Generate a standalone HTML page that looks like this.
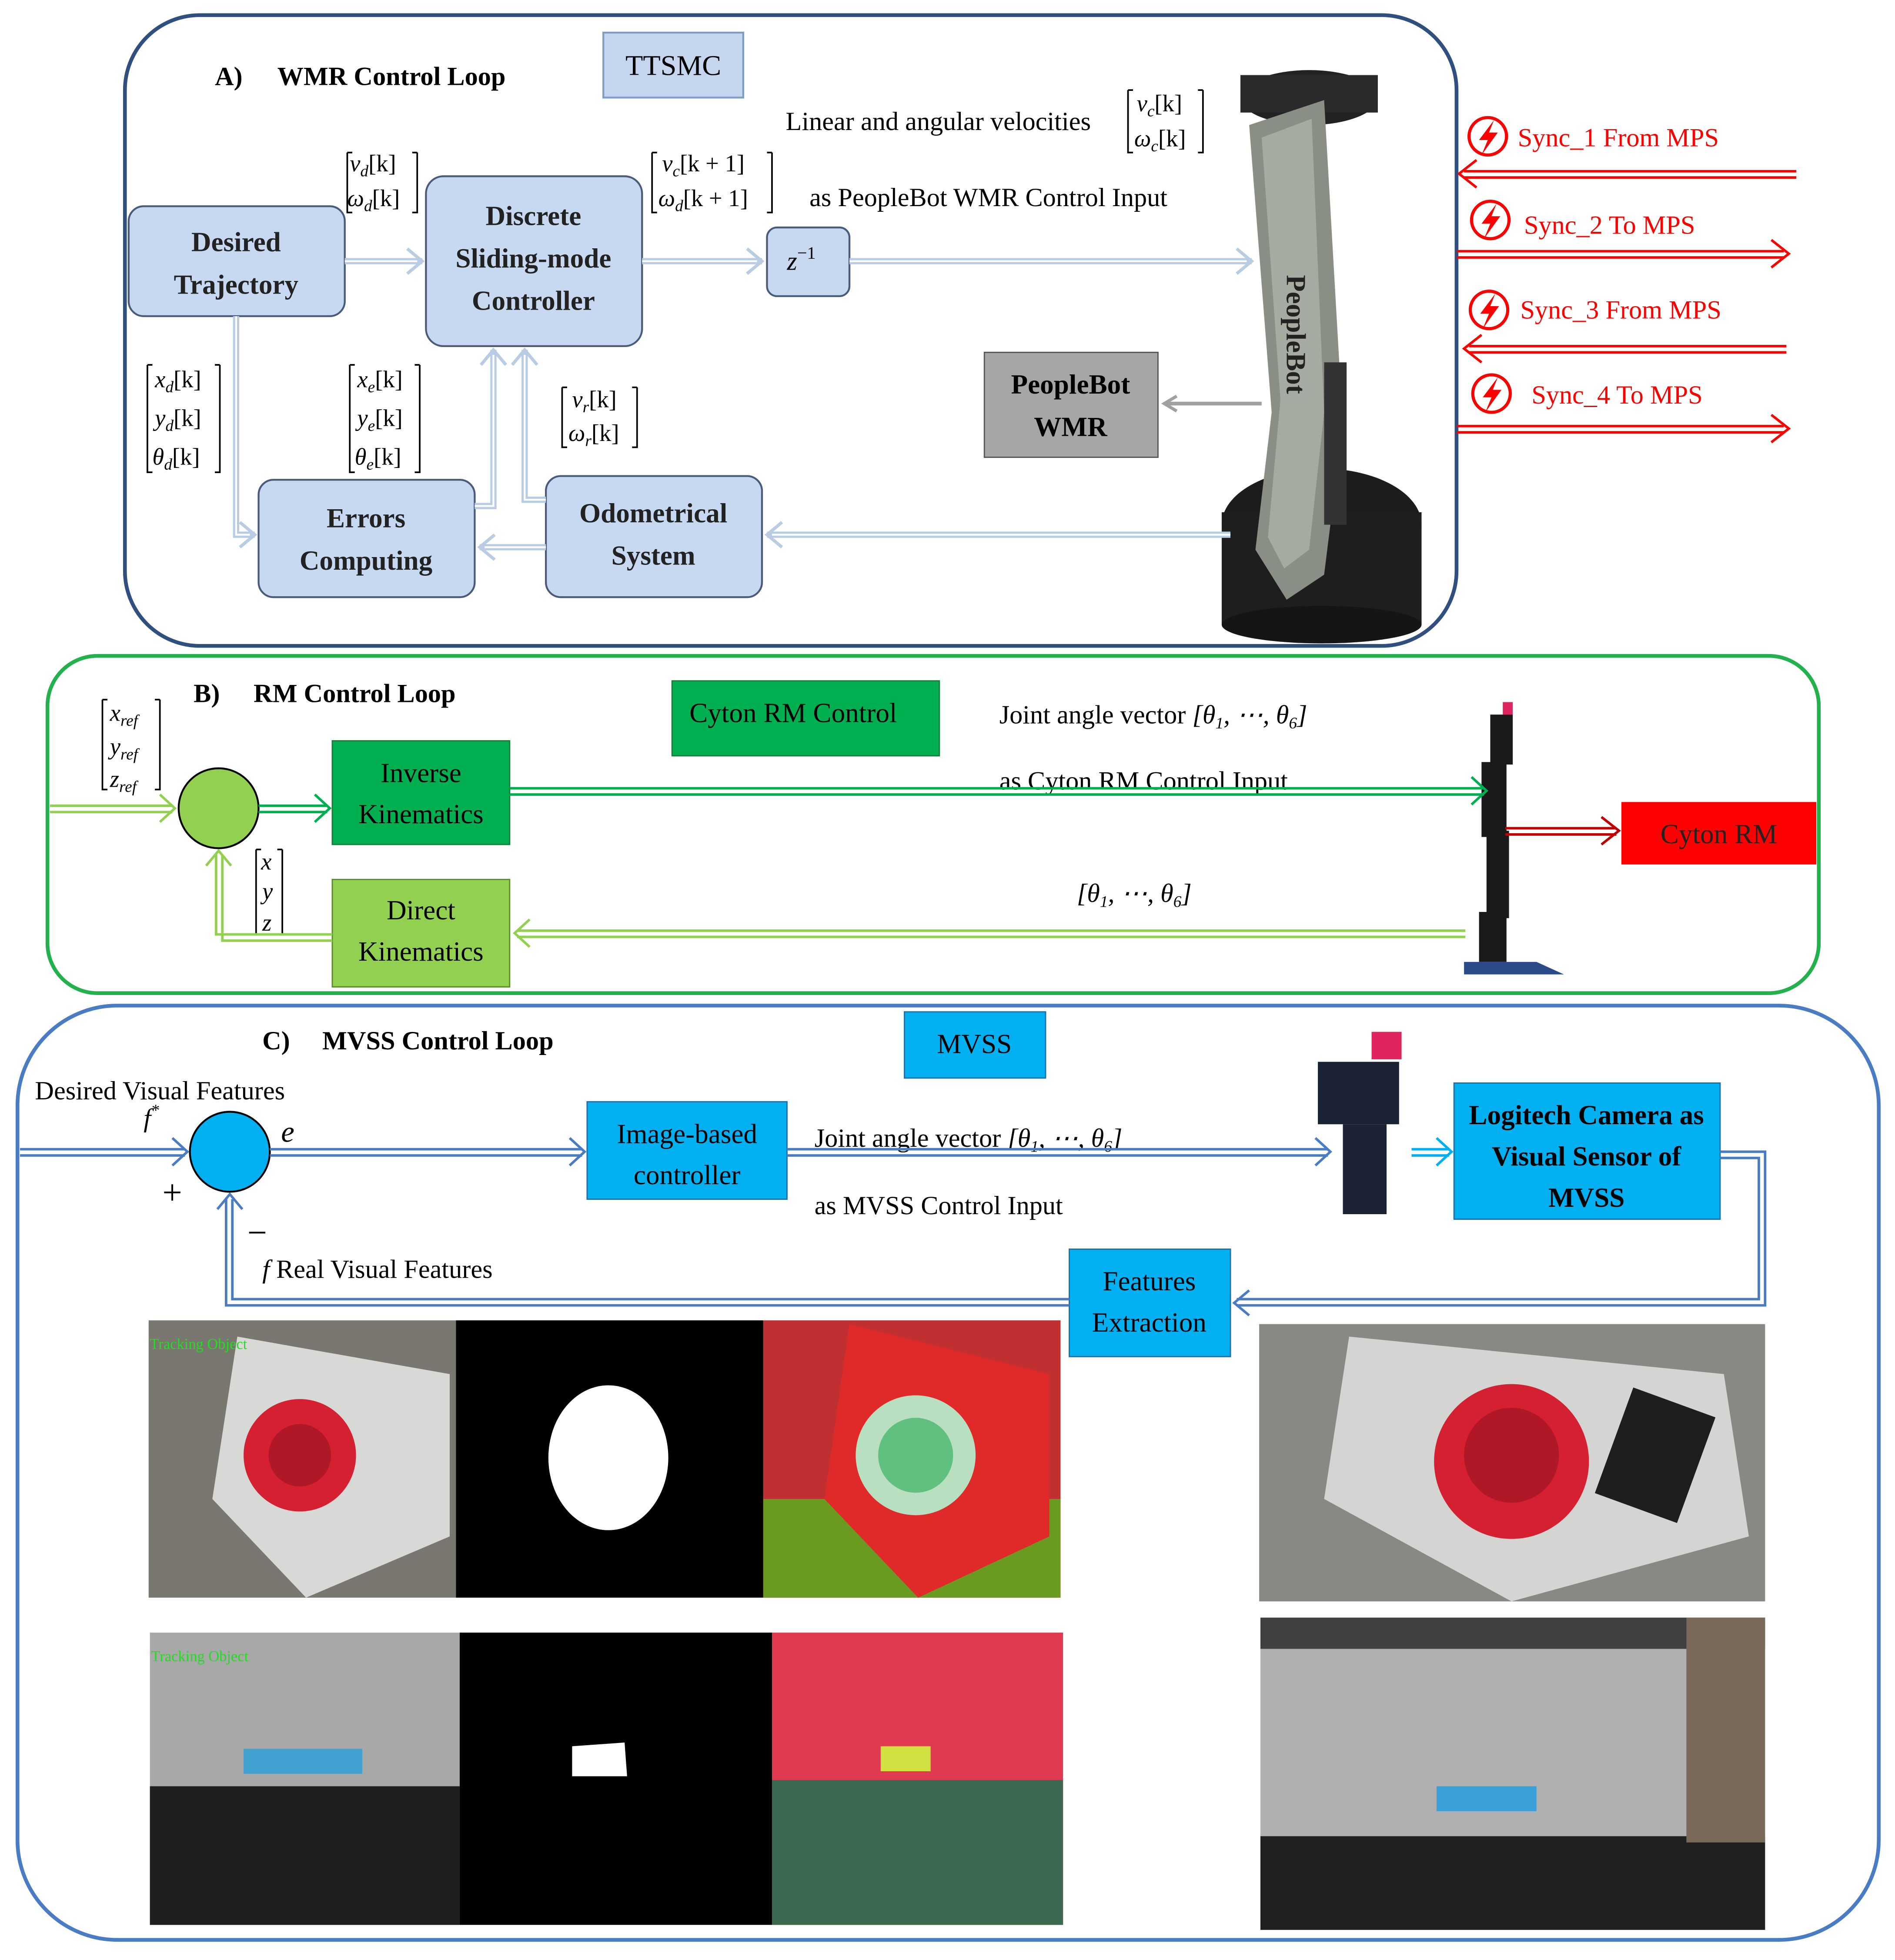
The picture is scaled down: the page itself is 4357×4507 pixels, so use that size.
<!DOCTYPE html>
<html><head><meta charset="utf-8"><style>
html,body{margin:0;padding:0;background:#fff}
svg{display:block}
text{font-family:"Liberation Serif",serif}
</style></head><body>
<svg width="4357" height="4507" viewBox="0 0 1517 1569" xmlns="http://www.w3.org/2000/svg">
<defs>
<marker id="ab" markerWidth="12" markerHeight="12" refX="10" refY="6" orient="auto" markerUnits="userSpaceOnUse"><path d="M1,1 L10,6 L1,11" fill="none" stroke="#b8cce4" stroke-width="2.5"/></marker>
<marker id="ag" markerWidth="14" markerHeight="14" refX="11" refY="7" orient="auto" markerUnits="userSpaceOnUse"><path d="M1,1 L11,7 L1,13" fill="none" stroke="#a0a0a0" stroke-width="2.5"/></marker>
<marker id="ar" markerWidth="16" markerHeight="14" refX="14" refY="7" orient="auto" markerUnits="userSpaceOnUse"><path d="M1,1 L14,7 L1,13" fill="none" stroke="#ff0000" stroke-width="2.5"/></marker>
<marker id="adr" markerWidth="16" markerHeight="14" refX="14" refY="7" orient="auto" markerUnits="userSpaceOnUse"><path d="M1,1 L14,7 L1,13" fill="none" stroke="#c00000" stroke-width="2.5"/></marker>
<marker id="agd" markerWidth="16" markerHeight="14" refX="14" refY="7" orient="auto" markerUnits="userSpaceOnUse"><path d="M1,1 L14,7 L1,13" fill="none" stroke="#00b050" stroke-width="2.5"/></marker>
<marker id="agl" markerWidth="16" markerHeight="14" refX="14" refY="7" orient="auto" markerUnits="userSpaceOnUse"><path d="M1,1 L14,7 L1,13" fill="none" stroke="#92d050" stroke-width="2.5"/></marker>
<marker id="abl" markerWidth="16" markerHeight="14" refX="14" refY="7" orient="auto" markerUnits="userSpaceOnUse"><path d="M1,1 L14,7 L1,13" fill="none" stroke="#4a7cc4" stroke-width="2.5"/></marker>
<marker id="acy" markerWidth="16" markerHeight="14" refX="14" refY="7" orient="auto" markerUnits="userSpaceOnUse"><path d="M1,1 L14,7 L1,13" fill="none" stroke="#00b0f0" stroke-width="2.5"/></marker>
</defs>
<rect width="1517" height="1569" fill="#fff"/>

<!-- PANEL A -->
<rect x="100" y="12" width="1066" height="505" rx="60" fill="none" stroke="#2f4f7f" stroke-width="3"/>
<text x="172" y="68" font-size="21" font-weight="bold">A)</text>
<text x="222" y="68" font-size="21" font-weight="bold">WMR Control Loop</text>
<rect x="483" y="26" width="112" height="52" fill="#c5d5ee" stroke="#7f9cc8" stroke-width="1.5"/>
<text x="539" y="60" font-size="23" text-anchor="middle">TTSMC</text>

<g fill="#c7d9f1" stroke="#4a5a7a" stroke-width="1.5">
<rect x="103" y="165" width="173" height="88" rx="12"/>
<rect x="341" y="141" width="173" height="136" rx="14"/>
<rect x="614" y="182" width="66" height="55" rx="8"/>
<rect x="207" y="384" width="173" height="94" rx="12"/>
<rect x="437" y="381" width="173" height="97" rx="12"/>
</g>
<g font-size="22" text-anchor="middle" font-weight="bold" fill="#222">
<text x="189" y="201">Desired</text><text x="189" y="235">Trajectory</text>
<text x="427" y="180">Discrete</text><text x="427" y="214">Sliding-mode</text><text x="427" y="248">Controller</text>
<text x="293" y="422">Errors</text><text x="293" y="456">Computing</text>
<text x="523" y="418">Odometrical</text><text x="523" y="452">System</text>
</g>
<text x="630" y="216" font-size="21" font-style="italic">z<tspan font-size="14" dy="-9" font-style="normal">−1</tspan></text>
<rect x="788" y="282" width="139" height="84" fill="#a6a6a6" stroke="#555" stroke-width="1"/>
<text x="857" y="315" font-size="22" text-anchor="middle" font-weight="bold">PeopleBot</text>
<text x="857" y="349" font-size="22" text-anchor="middle" font-weight="bold">WMR</text>

<!-- robot -->
<g>
<ellipse cx="1048" cy="78" rx="55" ry="22" fill="#222"/>
<rect x="993" y="60" width="110" height="30" fill="#2a2a2a"/>
<ellipse cx="1058" cy="420" rx="80" ry="45" fill="#1c1c1c"/>
<rect x="978" y="410" width="160" height="90" fill="#1e1e1e"/>
<ellipse cx="1058" cy="500" rx="80" ry="15" fill="#151515"/>
<path d="M1000,100 L1060,80 L1075,340 L1060,460 L1030,480 L1005,440 L1018,330 Z" fill="#8a8f86"/>
<path d="M1010,110 L1050,95 L1060,330 L1048,440 L1028,455 L1015,430 L1025,320 Z" fill="#a6aba2"/>
<rect x="1060" y="290" width="18" height="130" fill="#333"/>
<text x="1030" y="220" font-size="22" font-weight="bold" fill="#222" transform="rotate(90 1030 220)">PeopleBot</text>
</g>

<!-- A arrows -->
<g fill="none" stroke="#b8cce4" stroke-width="5">
<path d="M276,209 L338,209"/><path d="M514,209 L610,209"/><path d="M680,209 L1002,209"/>
<path d="M985,428 L614,428"/><path d="M437,438 L384,438"/>
<path d="M189,253 L189,428 L204,428"/>
<path d="M380,405 L395,405 L395,280"/><path d="M437,400 L420,400 L420,280"/>
</g>
<g fill="none" stroke="#fff" stroke-width="1.5">
<path d="M276,209 L334,209"/><path d="M514,209 L606,209"/><path d="M680,209 L998,209"/>
<path d="M985,428 L618,428"/><path d="M437,438 L388,438"/>
<path d="M189,253 L189,428 L200,428"/>
<path d="M380,405 L395,405 L395,284"/><path d="M437,400 L420,400 L420,284"/>
</g>
<g fill="none" stroke="#b8cce4" stroke-width="2.5">
<path d="M326,199 L338,209 L326,219"/><path d="M598,199 L610,209 L598,219"/><path d="M990,199 L1002,209 L990,219"/>
<path d="M626,418 L614,428 L626,438"/><path d="M396,428 L384,438 L396,448"/>
<path d="M192,418 L204,428 L192,438"/>
<path d="M385,292 L395,280 L405,292"/><path d="M410,292 L420,280 L430,292"/>
</g>
<path d="M1010,323 L932,323" stroke="#a0a0a0" stroke-width="3" marker-end="url(#ag)"/>

<!-- A math labels -->
<g font-size="19" font-style="italic">
<text x="280" y="137">v<tspan font-size="13" dy="4">d</tspan><tspan dy="-4" font-style="normal">[k]</tspan></text>
<text x="278" y="165">ω<tspan font-size="13" dy="4">d</tspan><tspan dy="-4" font-style="normal">[k]</tspan></text>
<text x="530" y="137">v<tspan font-size="13" dy="4">c</tspan><tspan dy="-4" font-style="normal">[k + 1]</tspan></text>
<text x="527" y="165">ω<tspan font-size="13" dy="4">d</tspan><tspan dy="-4" font-style="normal">[k + 1]</tspan></text>
<text x="910" y="89">v<tspan font-size="13" dy="4">c</tspan><tspan dy="-4" font-style="normal">[k]</tspan></text>
<text x="908" y="117">ω<tspan font-size="13" dy="4">c</tspan><tspan dy="-4" font-style="normal">[k]</tspan></text>
<text x="124" y="310">x<tspan font-size="13" dy="4">d</tspan><tspan dy="-4" font-style="normal">[k]</tspan></text>
<text x="124" y="341">y<tspan font-size="13" dy="4">d</tspan><tspan dy="-4" font-style="normal">[k]</tspan></text>
<text x="122" y="372">θ<tspan font-size="13" dy="4">d</tspan><tspan dy="-4" font-style="normal">[k]</tspan></text>
<text x="286" y="310">x<tspan font-size="13" dy="4">e</tspan><tspan dy="-4" font-style="normal">[k]</tspan></text>
<text x="286" y="341">y<tspan font-size="13" dy="4">e</tspan><tspan dy="-4" font-style="normal">[k]</tspan></text>
<text x="284" y="372">θ<tspan font-size="13" dy="4">e</tspan><tspan dy="-4" font-style="normal">[k]</tspan></text>
<text x="458" y="326">v<tspan font-size="13" dy="4">r</tspan><tspan dy="-4" font-style="normal">[k]</tspan></text>
<text x="455" y="353">ω<tspan font-size="13" dy="4">r</tspan><tspan dy="-4" font-style="normal">[k]</tspan></text>
</g>
<g fill="none" stroke="#000" stroke-width="1.3">
<path d="M278,122 v48 h4 M278,122 h4 M334,122 v48 h-4 M334,122 h-4"/>
<path d="M522,122 v48 h4 M522,122 h4 M618,122 v48 h-4 M618,122 h-4"/>
<path d="M903,72 v50 h4 M903,72 h4 M963,72 v50 h-4 M963,72 h-4"/>
<path d="M118,292 v86 h4 M118,292 h4 M176,292 v86 h-4 M176,292 h-4"/>
<path d="M280,292 v86 h4 M280,292 h4 M336,292 v86 h-4 M336,292 h-4"/>
<path d="M450,310 v48 h4 M450,310 h4 M510,310 v48 h-4 M510,310 h-4"/>
</g>
<text x="629" y="104" font-size="21">Linear and angular velocities</text>
<text x="648" y="165" font-size="21">as PeopleBot WMR Control Input</text>

<!-- sync arrows -->
<g stroke="#ff0000" stroke-width="2" fill="none">
<path d="M1438,137 L1172,137 M1438,142 L1172,142"/><path d="M1182,128 L1168,139 L1182,150"/>
<path d="M1166,201 L1428,201 M1166,206 L1428,206"/><path d="M1418,192 L1432,203 L1418,214"/>
<path d="M1430,277 L1176,277 M1430,282 L1176,282"/><path d="M1186,268 L1172,279 L1186,290"/>
<path d="M1166,341 L1428,341 M1166,346 L1428,346"/><path d="M1418,332 L1432,343 L1418,354"/>
</g>
<g stroke="#ff0000" stroke-width="2.5" fill="none">
<circle cx="1191" cy="109" r="15"/><circle cx="1193" cy="176" r="15"/><circle cx="1192" cy="248" r="15"/><circle cx="1194" cy="315" r="15"/>
</g>
<g fill="#ff0000">
<path d="M1196,96 L1184,112 L1191,112 L1186,124 L1199,106 L1192,106 Z"/>
<path d="M1198,163 L1186,179 L1193,179 L1188,191 L1201,173 L1194,173 Z"/>
<path d="M1197,235 L1185,251 L1192,251 L1187,263 L1200,245 L1193,245 Z"/>
<path d="M1199,302 L1187,318 L1194,318 L1189,330 L1202,312 L1195,312 Z"/>
</g>
<g font-size="21" fill="#ff0000">
<text x="1215" y="117">Sync_1 From MPS</text>
<text x="1220" y="187">Sync_2 To MPS</text>
<text x="1217" y="255">Sync_3 From MPS</text>
<text x="1226" y="323">Sync_4 To MPS</text>
</g>

<!-- PANEL B -->
<rect x="38" y="525" width="1418" height="270" rx="40" fill="none" stroke="#22b14c" stroke-width="3"/>
<text x="155" y="562" font-size="21" font-weight="bold">B)</text>
<text x="203" y="562" font-size="21" font-weight="bold">RM Control Loop</text>
<rect x="538" y="545" width="214" height="60" fill="#00b050" stroke="#1e7a3c"/>
<text x="635" y="578" font-size="22" text-anchor="middle">Cyton RM Control</text>
<rect x="266" y="593" width="142" height="83" fill="#00b050" stroke="#1e7a3c"/>
<text x="337" y="626" font-size="22" text-anchor="middle">Inverse</text><text x="337" y="659" font-size="22" text-anchor="middle">Kinematics</text>
<rect x="266" y="704" width="142" height="86" fill="#92d050" stroke="#5a8a2a"/>
<text x="337" y="736" font-size="22" text-anchor="middle">Direct</text><text x="337" y="769" font-size="22" text-anchor="middle">Kinematics</text>
<circle cx="175" cy="647" r="32" fill="#92d050" stroke="#000" stroke-width="1.5"/>
<rect x="1298" y="642" width="156" height="50" fill="#ff0000"/>
<text x="1376" y="675" font-size="22" text-anchor="middle" fill="#222">Cyton RM</text>
<!-- arm -->
<g fill="#1a1a1a">
<rect x="1203" y="562" width="8" height="10" fill="#e0245e"/>
<rect x="1193" y="572" width="18" height="40"/><rect x="1186" y="610" width="20" height="60"/>
<rect x="1190" y="665" width="18" height="70"/><rect x="1184" y="730" width="22" height="40"/>
<path d="M1172,770 L1230,770 L1252,780 L1172,780 Z" fill="#2a4a8a"/>
</g>
<g font-size="19" font-style="italic">
<text x="88" y="577">x<tspan font-size="13" dy="4">ref</tspan></text>
<text x="88" y="604">y<tspan font-size="13" dy="4">ref</tspan></text>
<text x="88" y="630">z<tspan font-size="13" dy="4">ref</tspan></text>
<text x="209" y="696">x</text><text x="210" y="720">y</text><text x="210" y="745">z</text>
</g>
<g fill="none" stroke="#000" stroke-width="1.3">
<path d="M82,560 v72 h4 M82,560 h4 M128,560 v72 h-4 M128,560 h-4"/>
<path d="M205,680 v68 h4 M205,680 h4 M226,680 v68 h-4 M226,680 h-4"/>
</g>
<text x="800" y="579" font-size="21">Joint angle vector  <tspan font-style="italic">[θ<tspan font-size="13" dy="4">1</tspan><tspan dy="-4">, ⋯, θ</tspan><tspan font-size="13" dy="4">6</tspan><tspan dy="-4">]</tspan></tspan></text>
<text x="800" y="632" font-size="21">as Cyton RM Control Input</text>
<text x="862" y="722" font-size="21" font-style="italic">[θ<tspan font-size="13" dy="4">1</tspan><tspan dy="-4">, ⋯, θ</tspan><tspan font-size="13" dy="4">6</tspan><tspan dy="-4">]</tspan></text>
<g fill="none" stroke-width="2">
<path d="M40,645 L138,645 M40,650 L138,650" stroke="#92d050"/><path d="M128,636 L140,647 L128,658" stroke="#92d050"/>
<path d="M207,645 L262,645 M207,650 L262,650" stroke="#00b050"/><path d="M252,636 L264,647 L252,658" stroke="#00b050"/>
<path d="M408,631 L1188,631 M408,636 L1188,636" stroke="#00b050"/><path d="M1178,622 L1190,633 L1178,644" stroke="#00b050"/>
<path d="M1205,663 L1294,663 M1205,668 L1294,668" stroke="#c00000"/><path d="M1282,654 L1296,665 L1282,676" stroke="#c00000"/>
<path d="M1173,745 L414,745 M1173,750 L414,750" stroke="#92d050"/><path d="M424,736 L412,747 L424,758" stroke="#92d050"/>
<path d="M266,748 L173,748 L173,684 M266,753 L178,753 L178,684" stroke="#92d050"/><path d="M165,693 L175,681 L185,693" stroke="#92d050"/>
</g>

<!-- PANEL C -->
<rect x="14" y="805" width="1490" height="748" rx="80" fill="none" stroke="#4a7cc4" stroke-width="3"/>
<text x="210" y="840" font-size="21" font-weight="bold">C)</text>
<text x="258" y="840" font-size="21" font-weight="bold">MVSS Control Loop</text>
<rect x="724" y="810" width="113" height="53" fill="#00b0f0" stroke="#1f6fa8"/>
<text x="780" y="843" font-size="22" text-anchor="middle">MVSS</text>
<circle cx="184" cy="922" r="32" fill="#00b0f0" stroke="#000" stroke-width="1.5"/>
<rect x="470" y="882" width="160" height="78" fill="#00b0f0" stroke="#1f6fa8"/>
<text x="550" y="915" font-size="22" text-anchor="middle">Image-based</text><text x="550" y="948" font-size="22" text-anchor="middle">controller</text>
<rect x="1164" y="867" width="213" height="109" fill="#00b0f0" stroke="#1f6fa8"/>
<text x="1270" y="900" font-size="22" text-anchor="middle" font-weight="bold">Logitech Camera as</text>
<text x="1270" y="933" font-size="22" text-anchor="middle" font-weight="bold">Visual Sensor of</text>
<text x="1270" y="966" font-size="22" text-anchor="middle" font-weight="bold">MVSS</text>
<rect x="856" y="1000" width="129" height="86" fill="#00b0f0" stroke="#1f6fa8"/>
<text x="920" y="1033" font-size="22" text-anchor="middle">Features</text><text x="920" y="1066" font-size="22" text-anchor="middle">Extraction</text>
<!-- small arm -->
<g fill="#1a2233">
<rect x="1098" y="826" width="24" height="22" fill="#e0245e"/>
<rect x="1055" y="850" width="65" height="50"/><rect x="1075" y="900" width="35" height="72"/>
</g>
<text x="28" y="880" font-size="21">Desired Visual Features</text>
<text x="115" y="902" font-size="21" font-style="italic">f<tspan font-size="13" dy="-9">*</tspan></text>
<text x="225" y="914" font-size="24" font-style="italic">e</text>
<text x="130" y="964" font-size="28">+</text>
<text x="198" y="996" font-size="28">−</text>
<text x="210" y="1023" font-size="21"><tspan font-style="italic">f</tspan>  Real Visual Features</text>
<text x="652" y="918" font-size="21">Joint angle vector  <tspan font-style="italic">[θ<tspan font-size="13" dy="4">1</tspan><tspan dy="-4">, ⋯, θ</tspan><tspan font-size="13" dy="4">6</tspan><tspan dy="-4">]</tspan></tspan></text>
<text x="652" y="972" font-size="21">as MVSS Control Input</text>
<g fill="none" stroke-width="2" stroke="#4a7cc4">
<path d="M16,920 L148,920 M16,925 L148,925"/><path d="M138,911 L150,922 L138,933"/>
<path d="M216,920 L466,920 M216,925 L466,925"/><path d="M456,911 L468,922 L456,933"/>
<path d="M630,920 L1063,920 M630,925 L1063,925"/><path d="M1053,911 L1065,922 L1053,933"/>
<path d="M1377,922 L1413,922 L1413,1045 L990,1045 M1377,927 L1408,927 L1408,1040 L990,1040"/><path d="M1000,1033 L988,1043 L1000,1053"/>
<path d="M856,1040 L186,1040 L186,960 M856,1045 L181,1045 L181,960"/><path d="M174,968 L184,956 L194,968"/>
</g>
<g fill="none" stroke="#00b0f0" stroke-width="2">
<path d="M1130,920 L1160,920 M1130,925 L1160,925"/><path d="M1150,911 L1162,922 L1150,933"/>
</g>

<!-- images row1 -->
<rect x="119" y="1057" width="246" height="222" fill="#7a7670"/>
<path d="M190,1070 L360,1100 L360,1230 L245,1279 L170,1200 Z" fill="#d8d8d6"/>
<circle cx="240" cy="1165" r="45" fill="#d42030"/><circle cx="240" cy="1165" r="25" fill="#b01828"/>
<text x="120" y="1080" font-size="12" fill="#22dd22" font-family="Liberation Mono, monospace">Tracking Object</text>
<rect x="365" y="1057" width="246" height="222" fill="#000"/>
<ellipse cx="487" cy="1167" rx="48" ry="58" fill="#fff"/>
<rect x="611" y="1057" width="238" height="222" fill="#c03030"/>
<rect x="611" y="1200" width="238" height="79" fill="#6a9a20"/>
<path d="M680,1060 L840,1100 L840,1230 L735,1279 L660,1200 Z" fill="#e02a2a"/>
<circle cx="733" cy="1165" r="48" fill="#b8e0c0"/><circle cx="733" cy="1165" r="30" fill="#60c080"/>
<rect x="1008" y="1060" width="405" height="222" fill="#8a8884"/>
<path d="M1080,1070 L1380,1100 L1400,1230 L1210,1282 L1060,1200 Z" fill="#d4d4d2"/>
<circle cx="1210" cy="1170" r="62" fill="#d42030"/><circle cx="1210" cy="1165" r="38" fill="#b01828"/>
<rect x="1290" y="1120" width="70" height="90" fill="#1e1e1e" transform="rotate(20 1325 1165)"/>
<!-- images row2 -->
<rect x="120" y="1307" width="248" height="234" fill="#a8a8a8"/>
<rect x="120" y="1430" width="248" height="111" fill="#1e1e1e"/>
<rect x="195" y="1400" width="95" height="20" fill="#40a0d0"/>
<text x="121" y="1330" font-size="12" fill="#22dd22" font-family="Liberation Mono, monospace">Tracking Object</text>
<rect x="368" y="1307" width="250" height="234" fill="#000"/>
<path d="M458,1398 L500,1395 L502,1422 L458,1422 Z" fill="#fff"/>
<rect x="618" y="1307" width="233" height="234" fill="#e03a50"/>
<rect x="618" y="1425" width="233" height="116" fill="#3a6a50"/>
<rect x="705" y="1398" width="40" height="20" fill="#d0e040"/>
<rect x="1009" y="1295" width="404" height="250" fill="#b0b0b0"/>
<rect x="1009" y="1295" width="404" height="25" fill="#404040"/>
<rect x="1009" y="1470" width="404" height="75" fill="#202020"/>
<rect x="1150" y="1430" width="80" height="20" fill="#3aa0d8"/>
<rect x="1350" y="1295" width="63" height="180" fill="#7a6a5a"/>
</svg>
</body></html>
